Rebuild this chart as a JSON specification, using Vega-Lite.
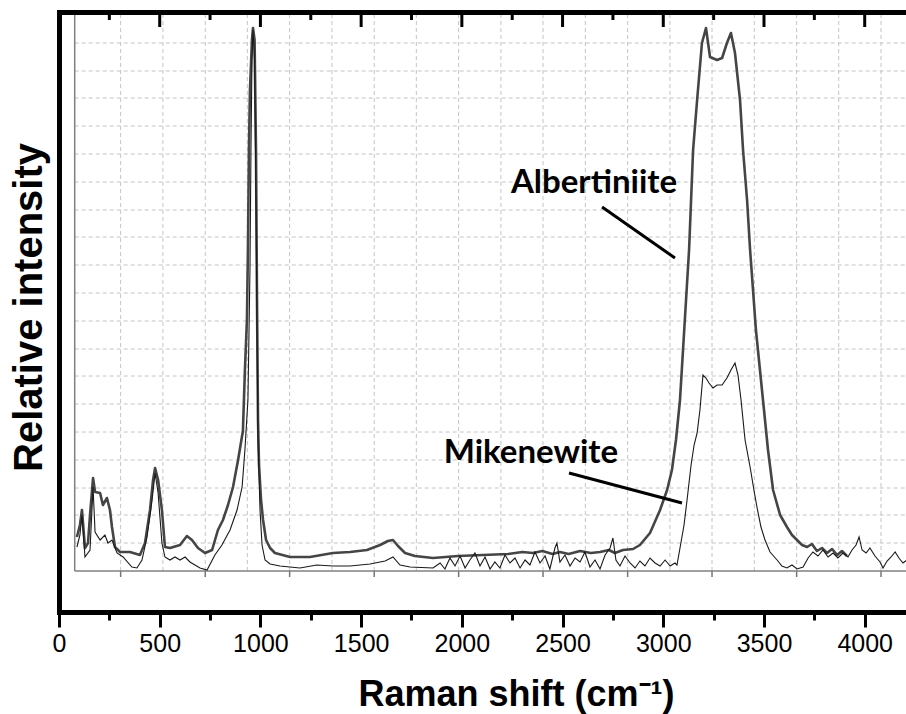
{
  "$schema": "https://vega.github.io/schema/vega-lite/v6.json",
  "width": 847,
  "height": 600,
  "autosize": "none",
  "padding": {"left": 59, "top": 12, "right": 0, "bottom": 102},
  "background": "white",
  "config": {"view": {"stroke": null}},
  "datasets": {
    "alb": [
      {"shift":89,"intensity":34},{"shift":104,"intensity":46},{"shift":114,"intensity":61},{"shift":129,"intensity":23},{"shift":144,"intensity":28},{"shift":154,"intensity":56},{"shift":169,"intensity":93},{"shift":179,"intensity":79},{"shift":204,"intensity":78},{"shift":218,"intensity":66},{"shift":238,"intensity":73},{"shift":253,"intensity":61},{"shift":263,"intensity":44},{"shift":278,"intensity":24},{"shift":303,"intensity":19},{"shift":352,"intensity":19},{"shift":402,"intensity":16},{"shift":427,"intensity":28},{"shift":452,"intensity":61},{"shift":467,"intensity":91},{"shift":477,"intensity":103},{"shift":492,"intensity":91},{"shift":511,"intensity":61},{"shift":526,"intensity":24},{"shift":551,"intensity":23},{"shift":601,"intensity":26},{"shift":635,"intensity":35},{"shift":660,"intensity":31},{"shift":690,"intensity":23},{"shift":725,"intensity":18},{"shift":760,"intensity":21},{"shift":789,"intensity":41},{"shift":814,"intensity":51},{"shift":839,"intensity":66},{"shift":864,"intensity":84},{"shift":889,"intensity":111},{"shift":913,"intensity":140},{"shift":923,"intensity":201},{"shift":933,"intensity":251},{"shift":938,"intensity":321},{"shift":943,"intensity":421},{"shift":948,"intensity":481},{"shift":958,"intensity":531},{"shift":963,"intensity":543},{"shift":971,"intensity":531},{"shift":978,"intensity":421},{"shift":983,"intensity":271},{"shift":988,"intensity":151},{"shift":993,"intensity":106},{"shift":1003,"intensity":71},{"shift":1013,"intensity":51},{"shift":1028,"intensity":31},{"shift":1048,"intensity":23},{"shift":1072,"intensity":18},{"shift":1147,"intensity":14},{"shift":1246,"intensity":14},{"shift":1360,"intensity":18},{"shift":1445,"intensity":19},{"shift":1529,"intensity":21},{"shift":1594,"intensity":26},{"shift":1633,"intensity":30},{"shift":1658,"intensity":31},{"shift":1683,"intensity":25},{"shift":1718,"intensity":18},{"shift":1767,"intensity":15},{"shift":1857,"intensity":13},{"shift":1981,"intensity":15},{"shift":2105,"intensity":16},{"shift":2229,"intensity":17},{"shift":2300,"intensity":19},{"shift":2353,"intensity":18},{"shift":2400,"intensity":20},{"shift":2450,"intensity":17},{"shift":2487,"intensity":19},{"shift":2530,"intensity":17},{"shift":2587,"intensity":20},{"shift":2640,"intensity":18},{"shift":2686,"intensity":19},{"shift":2730,"intensity":21},{"shift":2760,"intensity":18},{"shift":2800,"intensity":21},{"shift":2850,"intensity":22},{"shift":2884,"intensity":26},{"shift":2934,"intensity":38},{"shift":2984,"intensity":61},{"shift":3019,"intensity":81},{"shift":3043,"intensity":101},{"shift":3063,"intensity":131},{"shift":3083,"intensity":171},{"shift":3098,"intensity":221},{"shift":3113,"intensity":271},{"shift":3128,"intensity":321},{"shift":3138,"intensity":371},{"shift":3148,"intensity":421},{"shift":3168,"intensity":471},{"shift":3192,"intensity":528},{"shift":3212,"intensity":543},{"shift":3232,"intensity":514},{"shift":3267,"intensity":511},{"shift":3292,"intensity":513},{"shift":3316,"intensity":528},{"shift":3336,"intensity":538},{"shift":3356,"intensity":518},{"shift":3381,"intensity":471},{"shift":3396,"intensity":421},{"shift":3416,"intensity":371},{"shift":3431,"intensity":321},{"shift":3460,"intensity":241},{"shift":3495,"intensity":171},{"shift":3520,"intensity":121},{"shift":3545,"intensity":81},{"shift":3580,"intensity":56},{"shift":3614,"intensity":44},{"shift":3639,"intensity":36},{"shift":3664,"intensity":31},{"shift":3689,"intensity":26},{"shift":3714,"intensity":24},{"shift":3738,"intensity":27},{"shift":3763,"intensity":20},{"shift":3788,"intensity":23},{"shift":3813,"intensity":18},{"shift":3838,"intensity":22},{"shift":3863,"intensity":16},{"shift":3887,"intensity":20},{"shift":3912,"intensity":15}
    ],
    "mik": [
      {"shift":89,"intensity":24},{"shift":104,"intensity":36},{"shift":114,"intensity":56},{"shift":129,"intensity":14},{"shift":154,"intensity":21},{"shift":169,"intensity":84},{"shift":179,"intensity":39},{"shift":204,"intensity":31},{"shift":228,"intensity":36},{"shift":243,"intensity":28},{"shift":263,"intensity":31},{"shift":288,"intensity":18},{"shift":318,"intensity":14},{"shift":362,"intensity":4},{"shift":387,"intensity":3},{"shift":412,"intensity":11},{"shift":437,"intensity":34},{"shift":462,"intensity":71},{"shift":477,"intensity":98},{"shift":492,"intensity":78},{"shift":511,"intensity":28},{"shift":526,"intensity":14},{"shift":551,"intensity":11},{"shift":576,"intensity":14},{"shift":601,"intensity":11},{"shift":626,"intensity":14},{"shift":650,"intensity":9},{"shift":700,"intensity":3},{"shift":735,"intensity":1},{"shift":774,"intensity":16},{"shift":809,"intensity":26},{"shift":849,"intensity":41},{"shift":884,"intensity":61},{"shift":909,"intensity":84},{"shift":923,"intensity":121},{"shift":938,"intensity":171},{"shift":948,"intensity":301},{"shift":953,"intensity":421},{"shift":958,"intensity":511},{"shift":963,"intensity":541},{"shift":971,"intensity":511},{"shift":978,"intensity":371},{"shift":983,"intensity":241},{"shift":988,"intensity":131},{"shift":998,"intensity":61},{"shift":1008,"intensity":26},{"shift":1023,"intensity":11},{"shift":1048,"intensity":7},{"shift":1097,"intensity":5},{"shift":1196,"intensity":3},{"shift":1280,"intensity":6},{"shift":1360,"intensity":5},{"shift":1445,"intensity":5},{"shift":1544,"intensity":7},{"shift":1619,"intensity":10},{"shift":1658,"intensity":14},{"shift":1693,"intensity":6},{"shift":1743,"intensity":4},{"shift":1857,"intensity":3},{"shift":1892,"intensity":8},{"shift":1916,"intensity":2},{"shift":1941,"intensity":13},{"shift":1966,"intensity":5},{"shift":1991,"intensity":15},{"shift":2016,"intensity":3},{"shift":2040,"intensity":11},{"shift":2065,"intensity":18},{"shift":2090,"intensity":5},{"shift":2115,"intensity":14},{"shift":2140,"intensity":2},{"shift":2164,"intensity":9},{"shift":2189,"intensity":3},{"shift":2214,"intensity":16},{"shift":2239,"intensity":8},{"shift":2264,"intensity":13},{"shift":2289,"intensity":3},{"shift":2314,"intensity":11},{"shift":2338,"intensity":6},{"shift":2363,"intensity":19},{"shift":2388,"intensity":8},{"shift":2413,"intensity":15},{"shift":2437,"intensity":2},{"shift":2462,"intensity":23},{"shift":2472,"intensity":28},{"shift":2487,"intensity":9},{"shift":2512,"intensity":16},{"shift":2537,"intensity":5},{"shift":2562,"intensity":13},{"shift":2587,"intensity":9},{"shift":2611,"intensity":19},{"shift":2636,"intensity":4},{"shift":2661,"intensity":11},{"shift":2686,"intensity":2},{"shift":2711,"intensity":16},{"shift":2736,"intensity":23},{"shift":2750,"intensity":33},{"shift":2765,"intensity":11},{"shift":2785,"intensity":5},{"shift":2810,"intensity":15},{"shift":2835,"intensity":8},{"shift":2860,"intensity":3},{"shift":2884,"intensity":10},{"shift":2909,"intensity":5},{"shift":2934,"intensity":13},{"shift":2959,"intensity":8},{"shift":2984,"intensity":5},{"shift":3009,"intensity":11},{"shift":3034,"intensity":5},{"shift":3058,"intensity":8},{"shift":3068,"intensity":6},{"shift":3083,"intensity":23},{"shift":3103,"intensity":46},{"shift":3118,"intensity":71},{"shift":3138,"intensity":106},{"shift":3153,"intensity":126},{"shift":3168,"intensity":138},{"shift":3182,"intensity":161},{"shift":3197,"intensity":196},{"shift":3212,"intensity":193},{"shift":3227,"intensity":188},{"shift":3247,"intensity":183},{"shift":3267,"intensity":186},{"shift":3292,"intensity":186},{"shift":3316,"intensity":193},{"shift":3336,"intensity":201},{"shift":3356,"intensity":208},{"shift":3371,"intensity":196},{"shift":3386,"intensity":171},{"shift":3406,"intensity":131},{"shift":3431,"intensity":104},{"shift":3450,"intensity":81},{"shift":3465,"intensity":64},{"shift":3485,"intensity":44},{"shift":3505,"intensity":31},{"shift":3530,"intensity":19},{"shift":3565,"intensity":11},{"shift":3589,"intensity":5},{"shift":3614,"intensity":3},{"shift":3639,"intensity":6},{"shift":3664,"intensity":2},{"shift":3694,"intensity":4},{"shift":3719,"intensity":13},{"shift":3743,"intensity":19},{"shift":3768,"intensity":15},{"shift":3793,"intensity":21},{"shift":3818,"intensity":14},{"shift":3843,"intensity":18},{"shift":3867,"intensity":13},{"shift":3892,"intensity":18},{"shift":3917,"intensity":14},{"shift":3937,"intensity":21},{"shift":3957,"intensity":26},{"shift":3972,"intensity":34},{"shift":3987,"intensity":21},{"shift":4007,"intensity":18},{"shift":4026,"intensity":23},{"shift":4051,"intensity":15},{"shift":4076,"intensity":9},{"shift":4091,"intensity":3},{"shift":4111,"intensity":10},{"shift":4131,"intensity":14},{"shift":4151,"intensity":19},{"shift":4170,"intensity":13},{"shift":4190,"intensity":8},{"shift":4210,"intensity":11}
    ],
    "vgrid": [{"g":306},{"g":516},{"g":726},{"g":935},{"g":1145},{"g":1355},{"g":1565},{"g":1774},{"g":1984},{"g":2194},{"g":2403},{"g":2613},{"g":2823},{"g":3033},{"g":3242},{"g":3452},{"g":3662},{"g":3871},{"g":4081}],
    "hgrid": [{"h":28},{"h":56},{"h":83},{"h":111},{"h":139},{"h":167},{"h":195},{"h":222},{"h":250},{"h":278},{"h":306},{"h":334},{"h":361},{"h":389},{"h":417},{"h":445},{"h":473},{"h":500},{"h":528}],
    "innerTicks": [{"t":306},{"t":726},{"t":1145},{"t":1565},{"t":1984},{"t":2403},{"t":2823},{"t":3242},{"t":3662},{"t":4081}],
    "topMajor": [{"v":500},{"v":1000},{"v":1500},{"v":2000},{"v":2500},{"v":3000},{"v":3500},{"v":4000}],
    "topMinor": [{"v":250},{"v":750},{"v":1250},{"v":1750},{"v":2250},{"v":2750},{"v":3250},{"v":3750}],
    "labels": [{"name":"Albertiniite","lx":2656,"ly":378},{"name":"Mikenewite","lx":2343,"ly":108}],
    "pointers": [{"x1":2696,"y1":364,"x2":3058,"y2":313},{"x1":2532,"y1":98,"x2":3093,"y2":68}]
  },
  "layer": [
    {
      "data": {"name": "vgrid"},
      "mark": {"type": "rule", "color": "#c4c4c4", "strokeWidth": 1, "strokeDash": [4, 3], "clip": true},
      "encoding": {
        "x": {"field": "g", "type": "quantitative", "scale": {"domain": [0, 4205], "nice": false, "zero": false},
              "axis": {"orient": "top", "ticks": false, "labels": false, "title": null, "grid": false, "domain": true, "domainColor": "black", "domainWidth": 5, "domainCap": "square", "zindex": 2}},
        "y": {"datum": 0, "type": "quantitative", "scale": {"domain": [-41, 559], "nice": false, "zero": false}, "axis": null},
        "y2": {"datum": 556}
      }
    },
    {
      "data": {"name": "hgrid"},
      "mark": {"type": "rule", "color": "#c4c4c4", "strokeWidth": 1, "strokeDash": [4, 3], "clip": true},
      "encoding": {
        "y": {"field": "h", "type": "quantitative", "scale": {"domain": [-41, 559], "nice": false, "zero": false}, "axis": null},
        "x": {"datum": 78, "type": "quantitative", "scale": {"domain": [0, 4205], "nice": false, "zero": false},
              "axis": {"orient": "bottom", "values": [250,750,1250,1750,2250,2750,3250,3750], "tickSize": 8, "tickWidth": 3, "tickColor": "black", "labels": false, "title": null, "grid": false, "domain": false, "zindex": 2}},
        "x2": {"datum": 4205}
      }
    },
    {
      "data": {"name": "innerTicks"},
      "mark": {"type": "rule", "color": "#777777", "strokeWidth": 1.5, "clip": true},
      "encoding": {
        "x": {"field": "t", "type": "quantitative", "scale": {"domain": [0, 4205], "nice": false, "zero": false}, "axis": null},
        "y": {"datum": 0, "type": "quantitative", "scale": {"domain": [-41, 559], "nice": false, "zero": false}, "axis": null},
        "y2": {"datum": -6}
      }
    },
    {
      "data": {"name": "topMajor"},
      "mark": {"type": "rule", "color": "black", "strokeWidth": 3, "clip": true},
      "encoding": {
        "x": {"field": "v", "type": "quantitative", "scale": {"domain": [0, 4205], "nice": false, "zero": false}, "axis": null},
        "y": {"datum": 559, "type": "quantitative", "scale": {"domain": [-41, 559], "nice": false, "zero": false}, "axis": null},
        "y2": {"datum": 544}
      }
    },
    {
      "data": {"name": "topMinor"},
      "mark": {"type": "rule", "color": "black", "strokeWidth": 3, "clip": true},
      "encoding": {
        "x": {"field": "v", "type": "quantitative", "scale": {"domain": [0, 4205], "nice": false, "zero": false}, "axis": null},
        "y": {"datum": 559, "type": "quantitative", "scale": {"domain": [-41, 559], "nice": false, "zero": false}, "axis": null},
        "y2": {"datum": 551}
      }
    },
    {
      "data": {"values": [{"a": 1}]},
      "mark": {"type": "rule", "color": "#808080", "strokeWidth": 1.5, "clip": true},
      "encoding": {
        "x": {"datum": 78, "type": "quantitative", "scale": {"domain": [0, 4205], "nice": false, "zero": false}, "axis": null},
        "y": {"datum": 0, "type": "quantitative", "scale": {"domain": [-41, 559], "nice": false, "zero": false}, "axis": null},
        "y2": {"datum": 559}
      }
    },
    {
      "data": {"values": [{"a": 1}]},
      "mark": {"type": "rule", "color": "#808080", "strokeWidth": 1.5, "clip": true},
      "encoding": {
        "x": {"datum": 78, "type": "quantitative", "scale": {"domain": [0, 4205], "nice": false, "zero": false}, "axis": null},
        "x2": {"datum": 4205},
        "y": {"datum": 0, "type": "quantitative", "scale": {"domain": [-41, 559], "nice": false, "zero": false}, "axis": null}
      }
    },
    {
      "data": {"name": "alb"},
      "mark": {"type": "line", "color": "#454545", "strokeWidth": 2.6, "clip": true, "strokeJoin": "round"},
      "encoding": {
        "x": {"field": "shift", "type": "quantitative", "sort": null, "scale": {"domain": [0, 4205], "nice": false, "zero": false},
              "axis": {"orient": "bottom", "values": [0,500,1000,1500,2000,2500,3000,3500,4000], "format": "d", "tickSize": 15, "tickWidth": 3, "tickColor": "black", "domain": true, "domainColor": "black", "domainWidth": 5, "domainCap": "square", "grid": false, "zindex": 2,
                       "labelFont": "Liberation Sans", "labelFontSize": 25, "labelColor": "black", "labelPadding": 4, "labelFlush": false, "labelOverlap": false, "labelBound": false,
                       "title": "Raman shift (cm⁻¹)", "titleFont": "Liberation Sans", "titleFontSize": 36, "titleFontWeight": "bold", "titleColor": "black", "titleX": 457, "titleY": 93, "titleBaseline": "alphabetic", "titleAlign": "center", "titleAnchor": null}},
        "y": {"field": "intensity", "type": "quantitative", "scale": {"domain": [-41, 559], "nice": false, "zero": false},
              "axis": {"orient": "left", "ticks": false, "labels": false, "grid": false, "domain": true, "domainColor": "black", "domainWidth": 5, "domainCap": "square", "zindex": 2,
                       "title": "Relative intensity", "titleFont": "Liberation Sans", "titleFontSize": 40, "titleFontWeight": "bold", "titleColor": "black", "titleX": -18, "titleY": 295, "titleBaseline": "alphabetic", "titleAlign": "center", "titleAngle": -90}}
      }
    },
    {
      "data": {"name": "mik"},
      "mark": {"type": "line", "color": "#1a1a1a", "strokeWidth": 1.1, "clip": true},
      "encoding": {
        "x": {"field": "shift", "type": "quantitative", "sort": null, "scale": {"domain": [0, 4205], "nice": false, "zero": false}, "axis": null},
        "y": {"field": "intensity", "type": "quantitative", "scale": {"domain": [-41, 559], "nice": false, "zero": false}, "axis": null}
      }
    },
    {
      "data": {"name": "pointers"},
      "mark": {"type": "rule", "color": "black", "strokeWidth": 3, "clip": true},
      "encoding": {
        "x": {"field": "x1", "type": "quantitative", "scale": {"domain": [0, 4205], "nice": false, "zero": false}, "axis": null},
        "y": {"field": "y1", "type": "quantitative", "scale": {"domain": [-41, 559], "nice": false, "zero": false}, "axis": null},
        "x2": {"field": "x2"},
        "y2": {"field": "y2"}
      }
    },
    {
      "data": {"name": "labels"},
      "mark": {"type": "text", "font": "Lato", "fontWeight": "bold", "fontSize": 33, "color": "black", "align": "center", "baseline": "alphabetic"},
      "encoding": {
        "x": {"field": "lx", "type": "quantitative", "scale": {"domain": [0, 4205], "nice": false, "zero": false}, "axis": null},
        "y": {"field": "ly", "type": "quantitative", "scale": {"domain": [-41, 559], "nice": false, "zero": false}, "axis": null},
        "text": {"field": "name"}
      }
    }
  ],
  "resolve": {"axis": {"x": "independent", "y": "independent"}}
}
